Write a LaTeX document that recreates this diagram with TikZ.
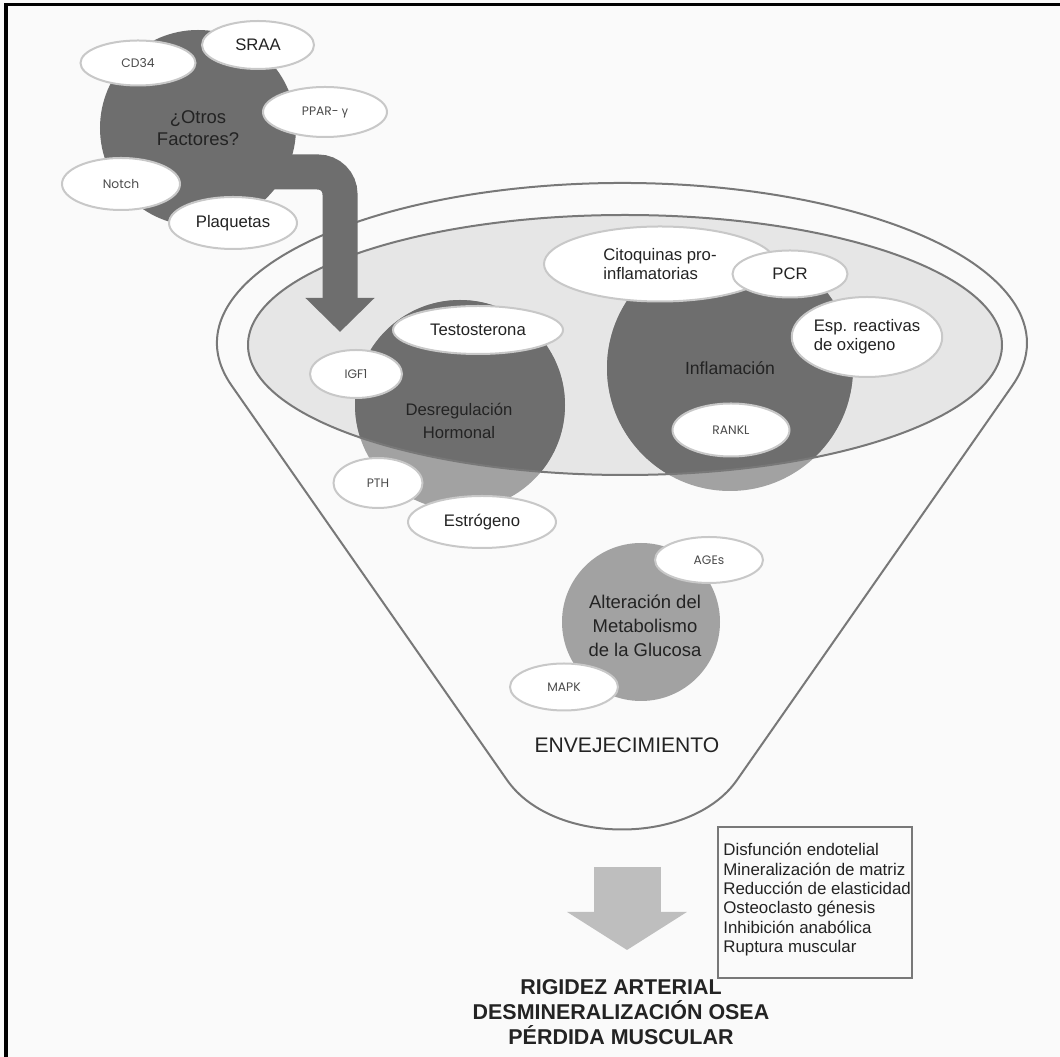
\documentclass[tikz,border=0pt]{standalone}
\usepackage{fontspec}
\setmainfont{Liberation Sans}
\newfontfamily\geo{Poppins}
\usetikzlibrary{arrows.meta, shapes.geometric}
\definecolor{fondo}{RGB}{250,250,250}
\definecolor{oscuro}{RGB}{110,110,110}
\definecolor{medio}{RGB}{162,162,162}
\definecolor{claro}{RGB}{230,230,230}
\definecolor{borde}{RGB}{200,200,200}
\definecolor{linea}{RGB}{120,120,120}
\definecolor{flechaclr}{RGB}{190,190,190}
\definecolor{texto}{RGB}{35,35,35}
\definecolor{textochico}{RGB}{75,75,75}
\tikzset{
  etiqueta/.style={ellipse, draw=borde, line width=0.4mm, fill=white, inner sep=0pt,
    text=texto, align=center, font=\fontsize{9.5}{11}\selectfont},
  chica/.style={etiqueta, text=textochico, font=\geo\fontsize{7}{8}\selectfont},
  nombre/.style={text=texto, align=center, font=\fontsize{10}{13}\selectfont},
  contorno/.style={draw=linea, line width=0.4mm},
}

\begin{document}
\begin{tikzpicture}[x=0.2mm, y=-0.2mm]
\useasboundingbox (0,0) rectangle (1060,1057);
\fill[fondo] (0,0) rectangle (1060,1057);
\draw[line width=0.6mm] (6,1057) -- (6,5) -- (1060,5);

\draw[contorno] (622,343) ++(164.6:405 and 160) arc[start angle=164.6, end angle=375.4, x radius=405, y radius=160]
  -- (737,780) .. controls (691,846) and (553,846) .. (507,780) -- cycle;
\fill[claro] (625,345) ellipse [x radius=377, y radius=130];
\fill[medio] (460,405) circle [radius=105];
\fill[medio] (730,368) circle [radius=123];
\begin{scope}
\clip (625,345) ellipse [x radius=377, y radius=130];
\fill[oscuro] (460,405) circle [radius=105];
\fill[oscuro] (730,368) circle [radius=123];
\end{scope}
\draw[contorno] (625,345) ellipse [x radius=377, y radius=130];

\node[nombre, font=\fontsize{9.5}{13}\selectfont] (desreg) at (459,421) {Desregulación\\Hormonal};
\node[nombre] (infl) at (730,368) {Inflamación};
\node[etiqueta, minimum width=34mm, minimum height=9.6mm] (testo) at (478,330) {Testosterona};
\node[chica, minimum width=18.4mm, minimum height=9.6mm] (igf) at (356,374) {IGF1};
\node[chica, minimum width=17.8mm, minimum height=10mm] (pth) at (378,483) {PTH};
\node[etiqueta, minimum width=29.6mm, minimum height=10.4mm] (estro) at (482,522) {Estrógeno};
\node[etiqueta, minimum width=46.4mm, minimum height=15mm, align=left] (cito) at (660,264) {Citoquinas pro-\\inflamatorias};
\node[etiqueta, minimum width=23mm, minimum height=9.4mm] (pcr) at (790,274) {PCR};
\node[etiqueta, minimum width=28mm, minimum height=16mm, align=left] (esp) at (867,337) {Esp. reactivas\\de oxigeno};
\node[chica, minimum width=23.4mm, minimum height=10.6mm] (rankl) at (731,430) {RANKL};

\fill[medio] (641,622) circle [radius=79];
\node[nombre, font=\fontsize{10.5}{13.5}\selectfont] (alter) at (645,626) {Alteración del\\Metabolismo\\de la Glucosa};
\node[chica, minimum width=21.6mm, minimum height=9.2mm] (ages) at (709,560) {AGEs};
\node[chica, minimum width=21.6mm, minimum height=9.4mm] (mapk) at (564,687) {MAPK};

\node[circle, fill=oscuro, minimum size=39.2mm, inner sep=0pt, text=texto, align=center,
  font=\fontsize{10.5}{12.5}\selectfont] (otros) at (198,128) {¿Otros\\Factores?};
\path (otros.center) ++(50,44) coordinate (brazo);
\coordinate (punta) at (340,332);
\draw[oscuro, line width=7mm, rounded corners=4.4mm, -{Triangle[width=13.4mm, length=6.8mm]}] (brazo) -| (punta);
\node[chica, minimum width=23mm, minimum height=9mm] (cd) at (138,63) {CD34};
\node[etiqueta, minimum width=22.4mm, minimum height=9.6mm] (sraa) at (258,45) {SRAA};
\node[chica, minimum width=24.8mm, minimum height=10mm] (ppar) at (325,112) {PPAR- {\rmfamily γ}};
\node[chica, minimum width=23.6mm, minimum height=10.4mm] (notch) at (121,184) {Notch};
\node[etiqueta, minimum width=25.6mm, minimum height=10.4mm] (plaq) at (233,223) {Plaquetas};

\node[nombre, font=\fontsize{12}{14}\selectfont] (envej) at (627,745) {ENVEJECIMIENTO};
\coordinate (baja) at (627,867);
\coordinate (llega) at (627,950);
\draw[flechaclr, line width=13.4mm, -{Triangle[width=23.6mm, length=7.6mm]}] (baja) -- (llega);
\draw[draw=linea, line width=0.3mm] (718,827) rectangle (912,978);
\node[anchor=north west, align=left, inner sep=0pt, text=texto, font=\fontsize{9.6}{11}\selectfont] (efectos) at (723,843)
  {Disfunción endotelial\\Mineralización de matriz\\Reducción de elasticidad\\Osteoclasto génesis\\Inhibición anabólica\\Ruptura muscular};
\node[align=center, text=texto, font=\bfseries\fontsize{12.2}{14.2}\selectfont] (final) at (621,1012)
  {RIGIDEZ ARTERIAL\\DESMINERALIZACIÓN OSEA\\PÉRDIDA MUSCULAR};
\end{tikzpicture}
\end{document}
